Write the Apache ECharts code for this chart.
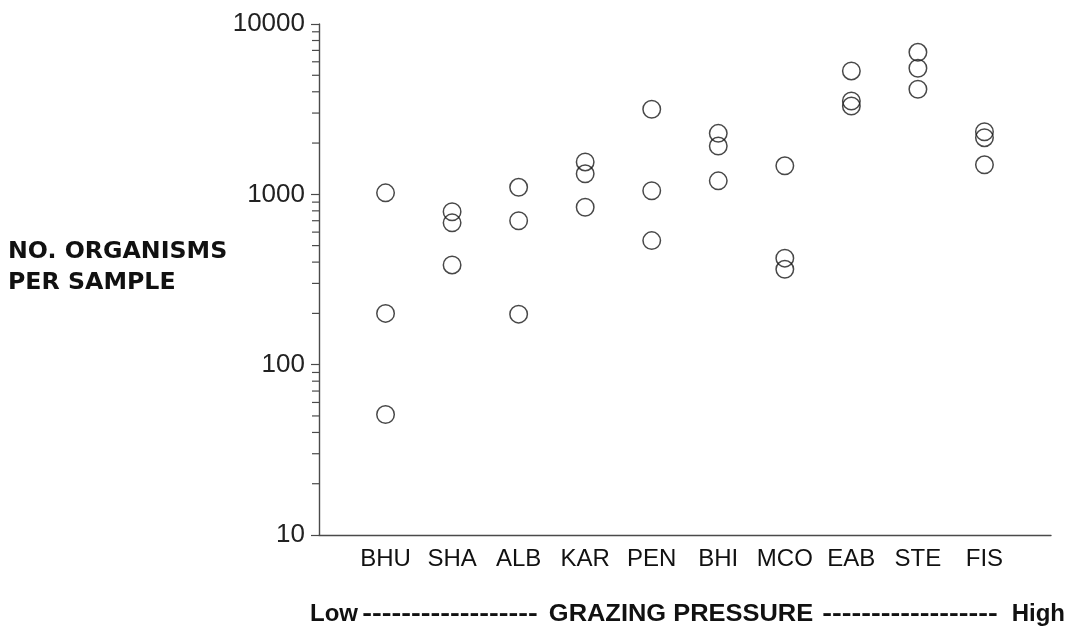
<!DOCTYPE html>
<html>
<head>
<meta charset="utf-8">
<script src="https://cdn.jsdelivr.net/npm/echarts@6/dist/echarts.min.js"></script>
<style>
html,body{margin:0;padding:0;background:#fff;}
#chart{width:1077px;height:640px;}
</style>
</head>
<body>
<div id="chart"></div>
<script>
// Sites ordered from low to high grazing pressure
const sites = ['BHU', 'SHA', 'ALB', 'KAR', 'PEN', 'BHI', 'MCO', 'EAB', 'STE', 'FIS'];

// Number of organisms per sample (three samples per site)
const BHU = [1020, 200, 51];
const SHA = [790, 680, 385];
const ALB = [1100, 700, 198];
const KAR = [1550, 1320, 840];
const PEN = [3160, 1050, 535];
const BHI = [2280, 1920, 1200];
const MCO = [1470, 422, 363];
const EAB = [5300, 3530, 3300];
const STE = [6820, 5500, 4140];
const FIS = [2330, 2150, 1490];
const siteValues = [BHU, SHA, ALB, KAR, PEN, BHI, MCO, EAB, STE, FIS];

// Log axis tick values
const majorTicks = [10, 100, 1000, 10000];
const minorTicks = [20, 30, 40, 50, 60, 70, 80, 90,
                    200, 300, 400, 500, 600, 700, 800, 900,
                    2000, 3000, 4000, 5000, 6000, 7000, 8000, 9000];

const points = [];
siteValues.forEach((vals, i) => vals.forEach(v => points.push([i + 1, v])));

const axisColor = '#4a4a4a';
const dashes = '------------------';
const bottomFont = 'bold 24px "Liberation Sans"';
const chart = echarts.init(document.getElementById('chart'), null, {renderer: 'canvas'});

chart.setOption({
  animation: false,
  backgroundColor: '#fff',
  grid: {left: 319, right: 26, top: 24, bottom: 105, containLabel: false},
  xAxis: {
    type: 'value', min: 0, max: sites.length + 1, interval: 1,
    splitLine: {show: false},
    axisTick: {show: false},
    axisLine: {show: true, lineStyle: {color: axisColor, width: 1.4}},
    axisLabel: {
      margin: 12,
      fontSize: 24, color: '#111', fontFamily: 'Liberation Sans',
      formatter: v => (v >= 1 && v <= sites.length) ? sites[v - 1] : ''
    }
  },
  yAxis: {
    type: 'log', logBase: 10, min: 10, max: 10000,
    splitLine: {show: false},
    axisLine: {show: true, lineStyle: {color: axisColor, width: 1.4}},
    axisTick: {show: true, inside: false, length: 8, lineStyle: {color: axisColor, width: 1.2}},
    axisLabel: {
      margin: 14, fontSize: 26, color: '#222', fontFamily: 'Liberation Sans',
      formatter: v => String(Math.round(v))
    }
  },
  graphic: [
    {type: 'text', x: 8, y: 237, scaleX: 1.03,
     style: {text: 'NO. ORGANISMS\nPER SAMPLE', font: 'bold 23px "DejaVu Sans"', fill: '#111', lineHeight: 31}},
    {type: 'text', x: 358, y: 614,
     style: {text: 'Low', font: bottomFont, fill: '#111', align: 'right', verticalAlign: 'middle'}},
    {type: 'text', x: 450, y: 614, scaleX: 1.22,
     style: {text: dashes, font: bottomFont, fill: '#111', align: 'center', verticalAlign: 'middle'}},
    {type: 'text', x: 681, y: 614, scaleX: 1.06,
     style: {text: 'GRAZING PRESSURE', font: bottomFont, fill: '#111', align: 'center', verticalAlign: 'middle'}},
    {type: 'text', x: 910, y: 614, scaleX: 1.22,
     style: {text: dashes, font: bottomFont, fill: '#111', align: 'center', verticalAlign: 'middle'}},
    {type: 'text', x: 1065, y: 614,
     style: {text: 'High', font: bottomFont, fill: '#111', align: 'right', verticalAlign: 'middle'}}
  ],
  series: [
    {
      type: 'scatter',
      data: points,
      symbol: 'circle',
      symbolSize: 17.5,
      itemStyle: {color: 'rgba(0,0,0,0)', borderColor: '#1a1a1a', borderWidth: 1.5},
      z: 5
    },
    {
      type: 'custom',
      clip: false,
      silent: true,
      data: minorTicks.map(v => [0, v]),
      renderItem: (params, api) => {
        const p = api.coord([0, api.value(1)]);
        return {type: 'line',
                shape: {x1: p[0] - 7, y1: p[1], x2: p[0], y2: p[1]},
                style: {stroke: axisColor, lineWidth: 1.2}};
      }
    }
  ]
});
</script>
</body>
</html>
